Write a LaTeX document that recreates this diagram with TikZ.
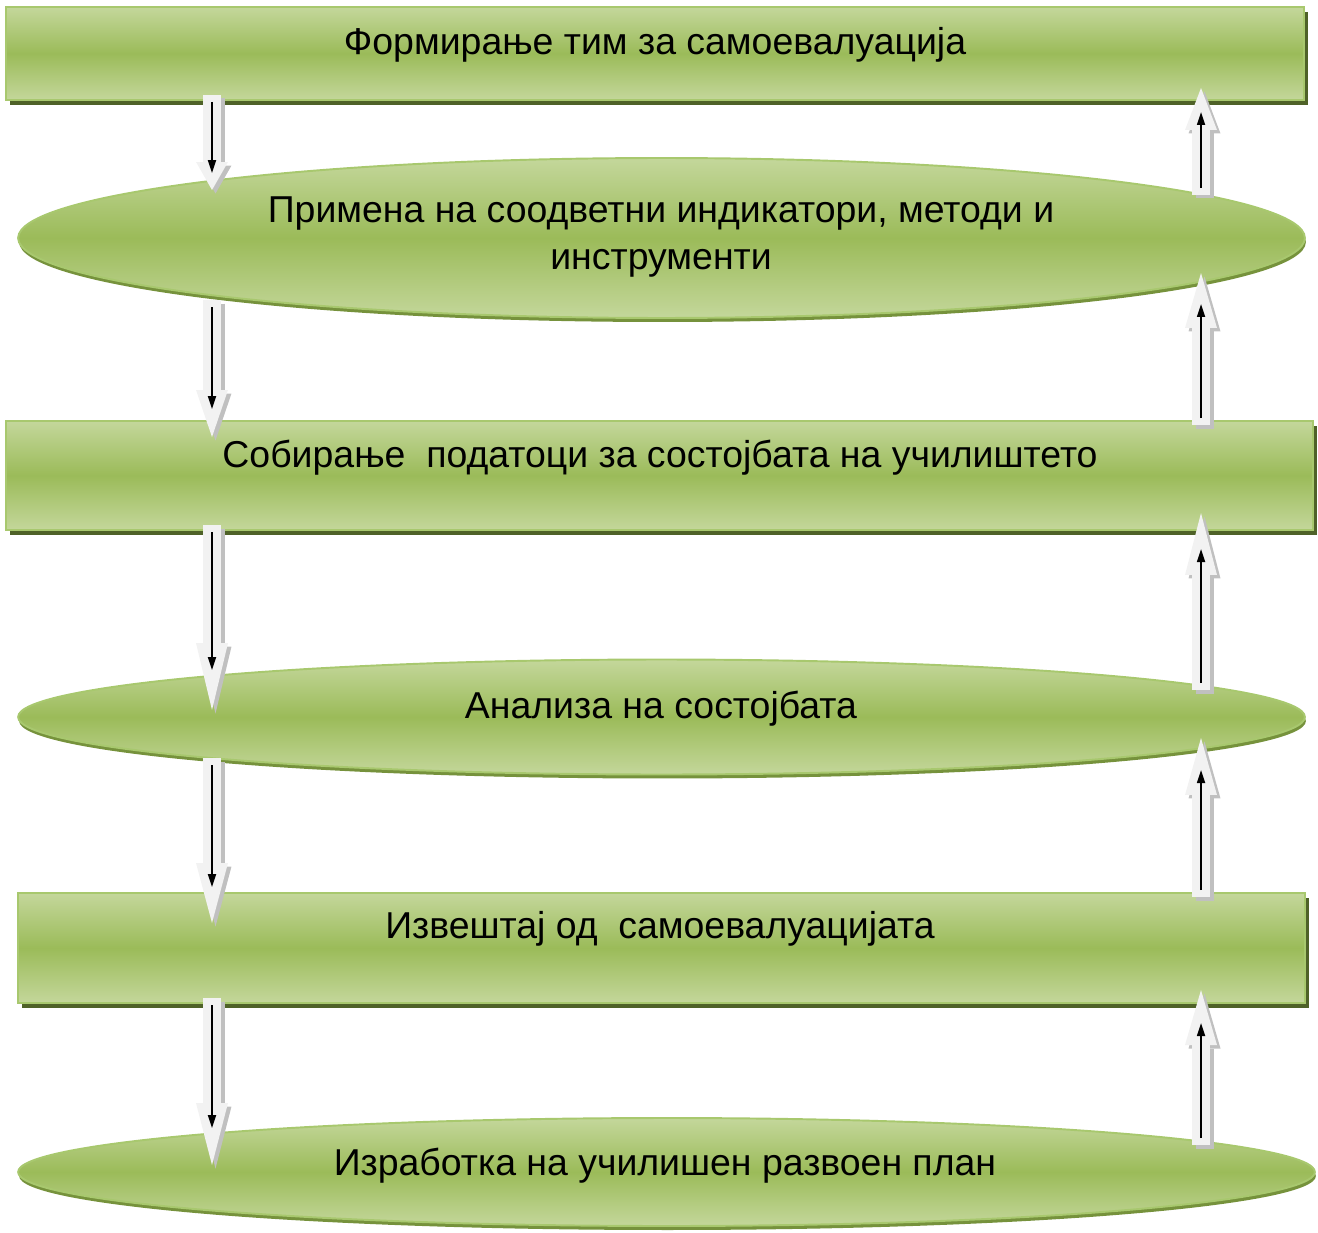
\documentclass[tikz,border=0pt]{standalone}
\usepackage{fontspec}
\setmainfont{Liberation Sans}
\usetikzlibrary{shapes.geometric,shadows,arrows.meta,calc}

\definecolor{lightgreen}{RGB}{196,215,155}
\definecolor{midgreen}{RGB}{155,187,89}
\definecolor{edgegreen}{RGB}{168,200,110}
\definecolor{darkolive}{RGB}{79,98,40}
\definecolor{ovalshadow}{RGB}{118,146,60}
\definecolor{arrowfill}{RGB}{242,242,242}
\definecolor{arrowshade}{RGB}{192,192,192}

\begin{document}
\begin{tikzpicture}[x=0.02cm,y=-0.02cm,
    greenbox/.style={rectangle,draw=edgegreen,line width=1.1pt,inner sep=0pt,
        top color=lightgreen,bottom color=lightgreen,middle color=midgreen,
        drop shadow={shadow xshift=0.08cm,shadow yshift=-0.1cm,fill=darkolive,opacity=1}},
    greenoval/.style={ellipse,draw=edgegreen,line width=1.1pt,inner sep=0pt,
        top color=lightgreen,bottom color=lightgreen,middle color=midgreen,
        drop shadow={shadow xshift=0.02cm,shadow yshift=-0.08cm,fill=ovalshadow,opacity=1}},
    steptext/.style={font=\fontsize{21.3}{27}\selectfont,align=center},
    fatarrow/.style={line width=0.36cm,draw=arrowfill},
    fatshade/.style={line width=0.36cm,draw=arrowshade},
    thinarrow/.style={line width=1pt,draw=black,-{Triangle[length=0.26cm,width=0.16cm]}}]

    \useasboundingbox (0,0) rectangle (1318,1233);

    % steps
    \node[greenbox,minimum width=25.96cm,minimum height=1.86cm] (form) at (655,53.5) {};
    \node[greenoval,minimum width=25.74cm,minimum height=3.2cm] (prim) at (661.5,238) {};
    \node[greenbox,minimum width=26.14cm,minimum height=2.18cm] (sobir) at (659.5,475.5) {};
    \node[greenoval,minimum width=25.74cm,minimum height=2.3cm] (anal) at (661.5,717) {};
    \node[greenbox,minimum width=25.74cm,minimum height=2.2cm] (izv) at (661.5,948) {};
    \node[greenoval,minimum width=25.94cm,minimum height=2.16cm] (izrab) at (666.5,1172) {};

    % labels
    \node[steptext] (t1) at (655,45) {Формирање тим за самоевалуација};
    \node[steptext] (t2) at (661,237) {Примена на соодветни индикатори, методи и\\инструменти};
    \node[steptext] (t3) at (660,458) {Собирање\ \ податоци за состојбата на училиштето};
    \node[steptext] (t4) at (661,709) {Анализа на состојбата};
    \node[steptext] (t5) at (660,929) {Извештај од\ \ самоевалуацијата};
    \node[steptext] (t6) at (665,1166) {Изработка на училишен развоен план};

    % arrows down
    \foreach \i/\ya/\yb/\h/\yc in {1/95/190/0.56/173, 2/300/437/0.94/409, 3/525/710/1.34/670,
                                  4/758/923/1.2/887, 5/998/1165/1.24/1128}{
        \coordinate (dtail\i) at (212,\ya);
        \coordinate (dtip\i) at (212,\yb);
        \draw[fatshade,-{Triangle[width=0.64cm,length=\h cm,line width=0pt]}]
            ([xshift=0.07cm,yshift=-0.07cm]dtail\i) -- ([xshift=0.07cm,yshift=-0.07cm]dtip\i);
        \draw[fatarrow,-{Triangle[width=0.64cm,length=\h cm,line width=0pt]}] (dtail\i) -- (dtip\i);
        \draw[thinarrow] ($(dtail\i)+(0,7)$) -- (212,\yc);
    }

    % arrows up
    \foreach \i/\ya/\yb/\h/\yc in {1/195/88/0.84/112, 2/425/273/1.1/304, 3/690/513/1.24/549,
                                  4/897/738/1.14/770, 5/1145/990/1.1/1023}{
        \coordinate (utail\i) at (1201,\ya);
        \coordinate (utip\i) at (1201,\yb);
        \draw[fatshade,-{Triangle[width=0.64cm,length=\h cm,line width=0pt]}]
            ([xshift=0.07cm,yshift=-0.07cm]utail\i) -- ([xshift=0.07cm,yshift=-0.07cm]utip\i);
        \draw[fatarrow,-{Triangle[width=0.64cm,length=\h cm,line width=0pt]}] (utail\i) -- (utip\i);
        \draw[thinarrow] ($(utail\i)+(0,-7)$) -- (1201,\yc);
    }
\end{tikzpicture}
\end{document}
